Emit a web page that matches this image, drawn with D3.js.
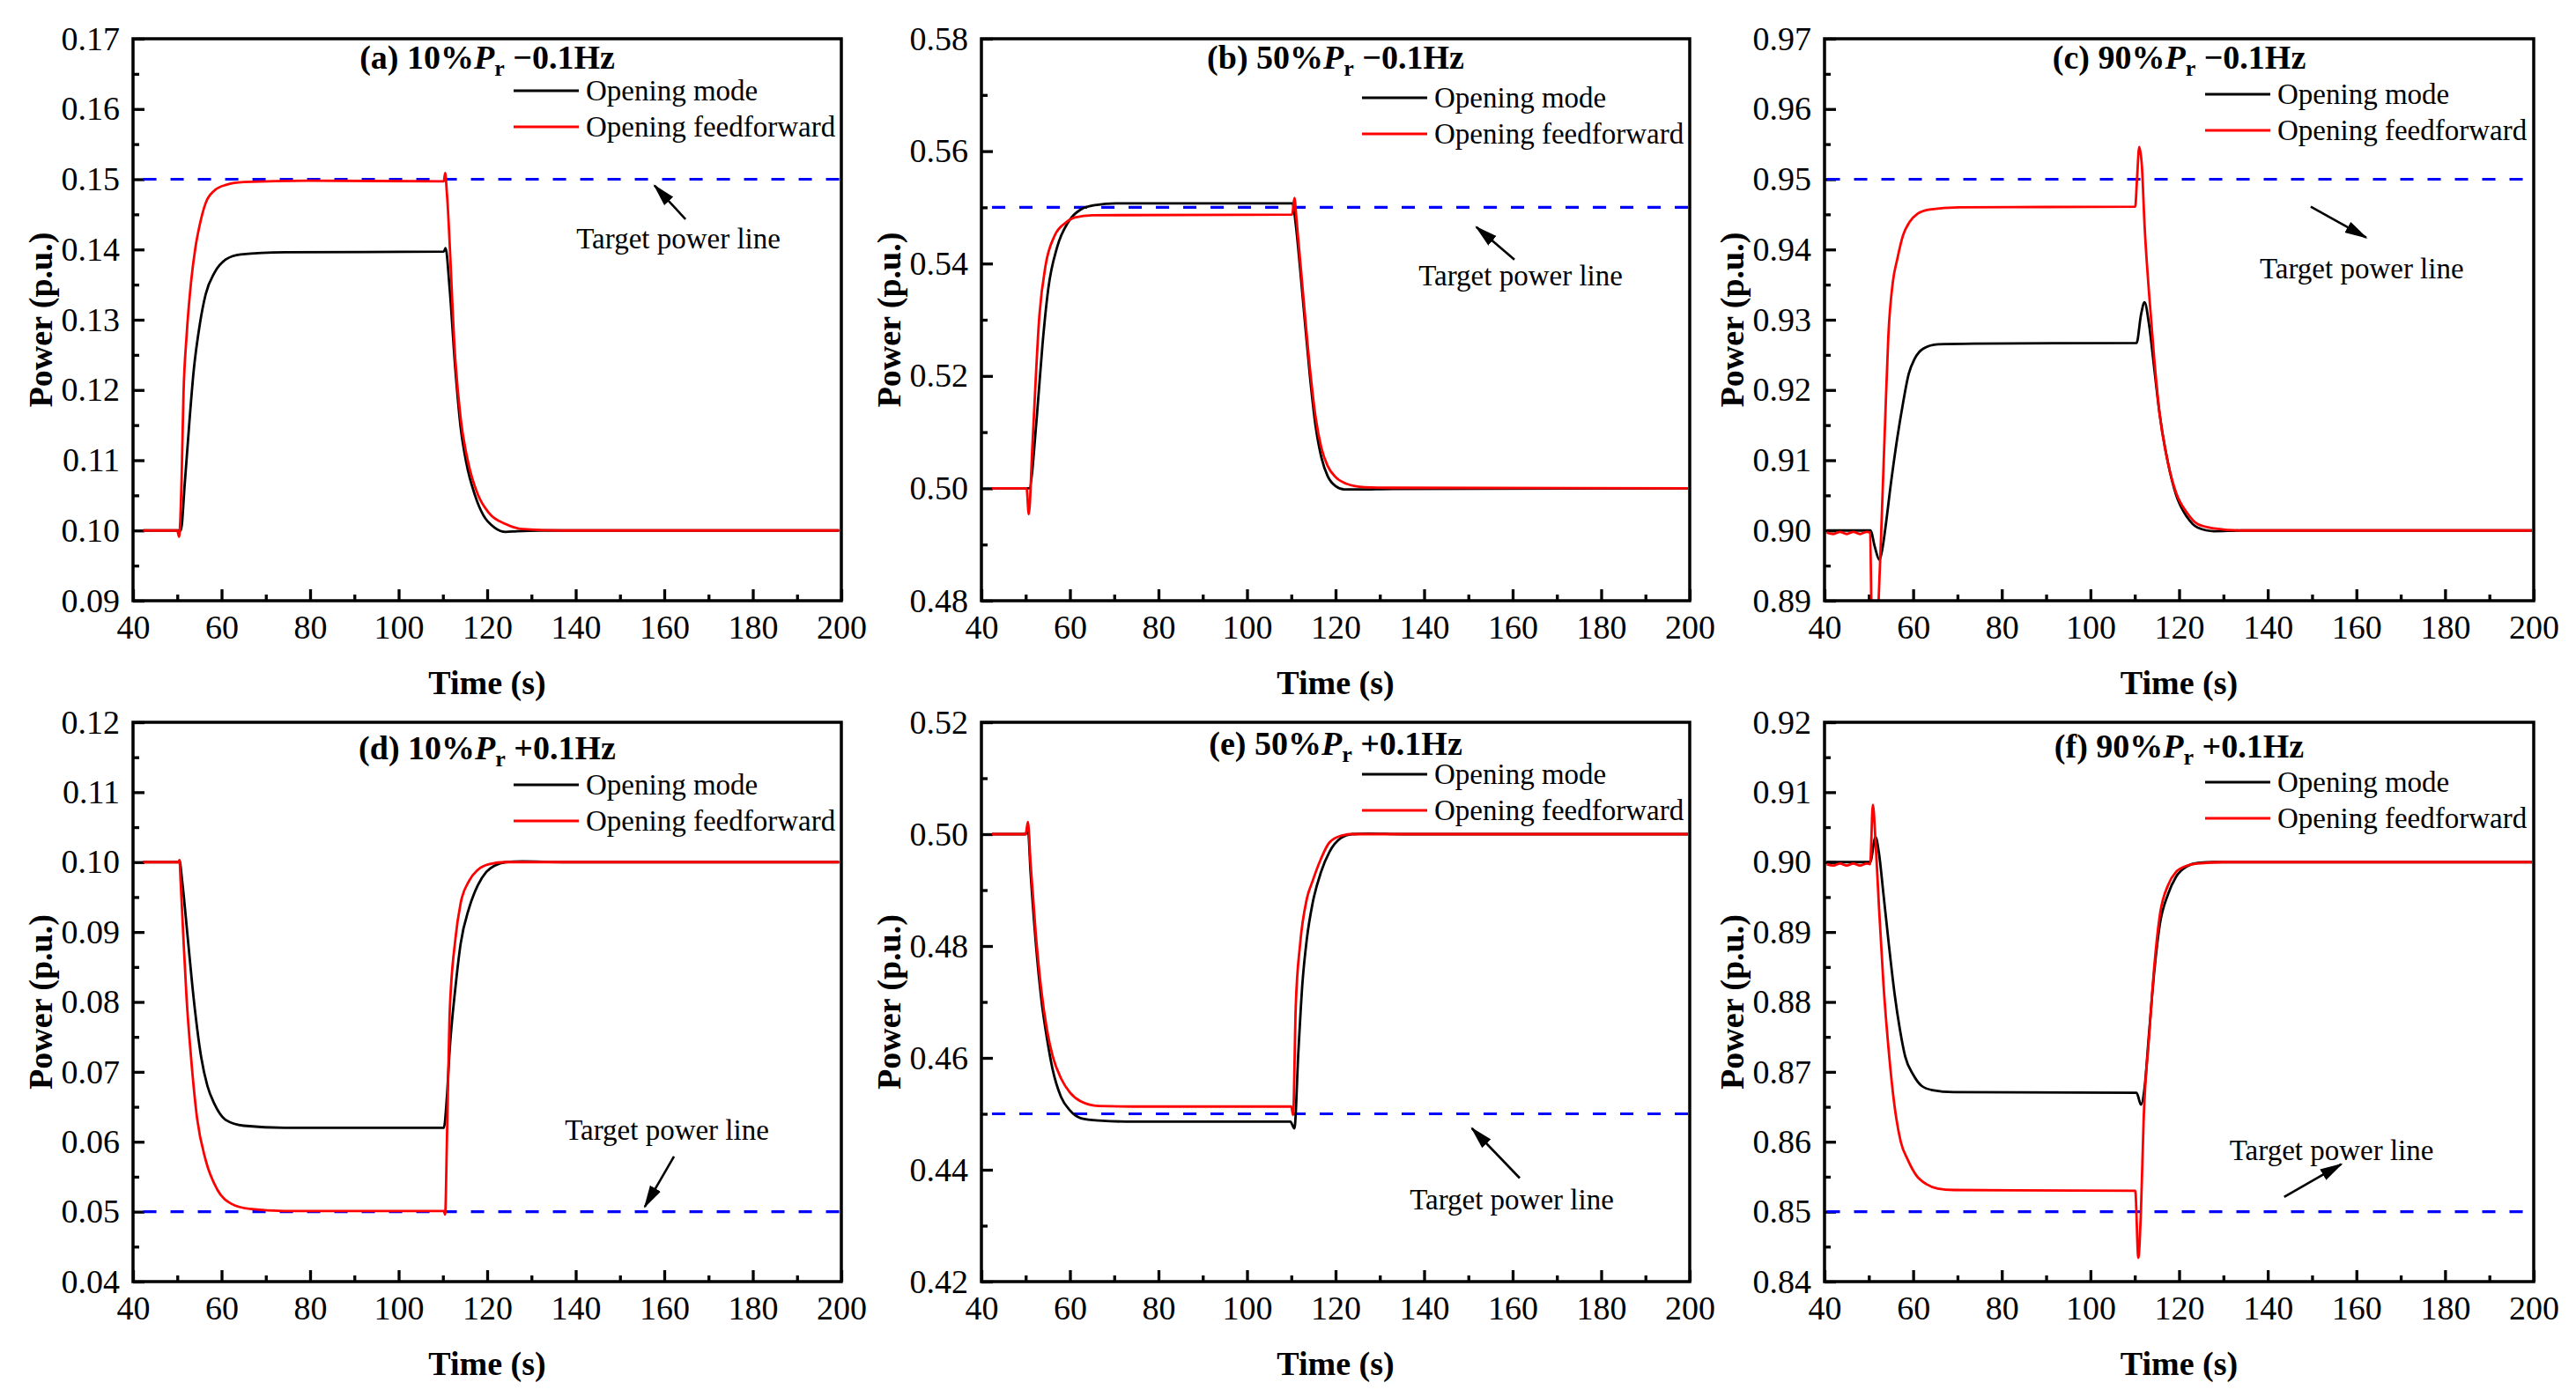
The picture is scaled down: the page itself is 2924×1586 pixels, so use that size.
<!DOCTYPE html>
<html>
<head>
<meta charset="utf-8">
<script src="https://cdn.jsdelivr.net/npm/d3@7"></script>
<style>
  body { margin: 0; background: #fff; }
  svg text { font-family: "Liberation Serif", "Times New Roman", serif; fill: #000; }
</style>
</head>
<body>
<svg id="chart" width="2924" height="1586"></svg>
<script>
// ---- data: [time (s), power (p.u.)] ----
const xTicks = [40, 60, 80, 100, 120, 140, 160, 180, 200];
const yTicksA = [0.09, 0.10, 0.11, 0.12, 0.13, 0.14, 0.15, 0.16, 0.17];
const yTicksB = [0.48, 0.50, 0.52, 0.54, 0.56, 0.58];
const yTicksC = [0.89, 0.90, 0.91, 0.92, 0.93, 0.94, 0.95, 0.96, 0.97];
const yTicksD = [0.04, 0.05, 0.06, 0.07, 0.08, 0.09, 0.10, 0.11, 0.12];
const yTicksE = [0.42, 0.44, 0.46, 0.48, 0.50, 0.52];
const yTicksF = [0.84, 0.85, 0.86, 0.87, 0.88, 0.89, 0.90, 0.91, 0.92];

const modeA = [[42.3,0.1000],[50.8,0.1000],[51.7,0.1068],[52.7,0.1152],[53.7,0.1227],[55.1,0.1294],[56.4,0.1336],[58.4,0.1367],[61.0,0.1386],[64.3,0.1393],[74.3,0.1396],[110.2,0.1397],[110.6,0.1402],[111.5,0.1346],[112.8,0.1230],[114.0,0.1147],[115.3,0.1096],[117.2,0.1051],[119.1,0.1022],[121.7,0.1004],[124.2,0.0998],[126.7,0.0999],[131.8,0.1000],[199.5,0.1000]];
const feedA = [[42.3,0.1000],[50.0,0.1000],[50.4,0.0991],[50.95,0.1068],[51.4,0.1194],[52.1,0.1277],[53.1,0.1353],[54.1,0.1403],[55.1,0.1436],[56.4,0.1466],[58.4,0.1484],[61.0,0.1492],[65.0,0.1496],[79.6,0.1498],[110.2,0.1497],[110.5,0.1509],[110.9,0.1480],[112.8,0.1243],[114.0,0.1160],[115.6,0.1100],[117.9,0.1051],[120.4,0.1025],[124.2,0.1009],[128.0,0.1002],[137.0,0.1000],[199.5,0.1000]];

const modeB = [[42.4,0.5000],[50.8,0.5000],[52.5,0.5126],[53.8,0.5256],[55.1,0.5355],[57.1,0.5429],[59.8,0.5476],[62.4,0.5496],[65.7,0.5504],[70.4,0.5507],[110.3,0.5507],[111.0,0.5470],[112.0,0.5390],[112.8,0.5320],[114.2,0.5200],[115.5,0.5110],[116.8,0.5055],[118.2,0.5022],[120.0,0.5004],[122.0,0.4998],[125.0,0.4998],[133.0,0.4999],[199.6,0.5000]];
const feedB = [[42.4,0.5000],[50.2,0.5000],[50.7,0.4954],[51.5,0.5073],[53.1,0.5308],[54.5,0.5397],[56.5,0.5449],[59.1,0.5473],[61.1,0.5482],[65.1,0.5486],[110.2,0.5487],[110.7,0.5517],[111.2,0.5476],[112.8,0.5334],[114.2,0.5214],[115.5,0.5126],[116.8,0.5072],[118.2,0.5040],[120.0,0.5020],[122.5,0.5008],[126.5,0.5002],[133.0,0.5001],[199.6,0.5000]];

const modeC = [[40.5,0.9000],[50.4,0.9000],[51.3,0.8978],[52.4,0.8958],[53.0,0.8972],[53.7,0.9002],[55.0,0.9068],[56.4,0.9131],[57.7,0.9181],[59.0,0.9223],[60.3,0.9244],[62.3,0.9259],[65.6,0.9265],[73.6,0.9266],[110.4,0.9267],[111.4,0.9307],[112.2,0.9325],[113.2,0.9294],[114.4,0.9230],[115.6,0.9166],[117.5,0.9096],[119.3,0.9051],[121.8,0.9019],[124.2,0.9004],[127.9,0.8999],[134.0,0.9000],[199.6,0.9000]];
const feedC = [[40.5,0.8997],[42.0,0.8995],[43.5,0.8998],[45.0,0.8995],[46.5,0.8998],[48.0,0.8995],[49.5,0.8998],[50.3,0.8997],[50.7,0.8850],[51.7,0.8850],[52.2,0.8900],[53.0,0.9035],[53.7,0.9160],[54.4,0.9277],[55.4,0.9353],[56.4,0.9386],[57.7,0.9420],[59.3,0.9440],[61.0,0.9451],[63.7,0.9457],[70.3,0.9460],[110.1,0.9461],[110.5,0.9500],[111.0,0.9546],[111.6,0.9519],[112.2,0.9435],[113.2,0.9339],[114.4,0.9243],[115.6,0.9166],[117.5,0.9096],[119.3,0.9054],[121.8,0.9025],[124.2,0.9009],[127.9,0.9003],[134.0,0.9000],[199.6,0.9000]];

const modeD = [[42.3,0.1000],[50.3,0.1000],[50.5,0.1002],[51.1,0.0973],[52.4,0.0889],[53.7,0.0805],[55.4,0.0721],[56.8,0.0680],[58.4,0.0654],[61.0,0.0631],[65.0,0.0623],[74.3,0.0620],[110.2,0.0620],[110.9,0.0664],[111.5,0.0729],[112.8,0.0819],[114.0,0.0883],[115.9,0.0934],[117.9,0.0967],[119.8,0.0986],[121.7,0.0995],[124.2,0.1000],[128.0,0.1001],[137.0,0.1000],[199.5,0.1000]];
const feedD = [[42.3,0.1000],[50.3,0.1000],[50.5,0.1003],[50.75,0.0973],[51.4,0.0889],[52.1,0.0805],[53.1,0.0721],[54.4,0.0637],[56.4,0.0574],[59.0,0.0532],[62.3,0.0511],[66.3,0.0504],[74.3,0.0501],[110.2,0.0501],[110.5,0.0496],[110.9,0.0600],[111.5,0.0780],[112.8,0.0889],[114.0,0.0941],[115.9,0.0973],[117.9,0.0989],[120.4,0.0997],[124.2,0.1000],[199.5,0.1000]];

const modeE = [[42.4,0.5000],[50.0,0.5000],[50.5,0.5010],[51.1,0.4932],[52.3,0.4804],[53.5,0.4707],[54.8,0.4635],[56.1,0.4579],[58.0,0.4530],[60.0,0.4506],[62.5,0.4492],[66.5,0.4488],[74.2,0.4486],[109.8,0.4486],[110.7,0.4474],[111.6,0.4611],[112.5,0.4732],[113.5,0.4812],[114.8,0.4876],[116.7,0.4932],[118.6,0.4968],[121.2,0.4993],[123.7,0.5000],[127.5,0.5001],[135.0,0.5000],[199.6,0.5000]];
const feedE = [[42.4,0.5000],[50.0,0.5000],[50.5,0.5022],[51.1,0.4948],[52.3,0.4820],[53.5,0.4723],[54.8,0.4651],[56.1,0.4603],[58.0,0.4563],[60.0,0.4538],[62.5,0.4522],[66.5,0.4514],[74.2,0.4513],[110.0,0.4513],[110.4,0.4498],[111.0,0.4691],[112.0,0.4804],[113.5,0.4884],[114.8,0.4916],[116.7,0.4956],[118.6,0.4985],[121.2,0.4997],[123.7,0.5000],[199.6,0.5000]];

const modeF = [[40.5,0.9000],[50.3,0.9000],[51.5,0.9036],[52.3,0.9012],[53.3,0.8954],[54.5,0.8883],[55.8,0.8812],[57.0,0.8761],[58.2,0.8722],[60.0,0.8696],[61.9,0.8680],[64.3,0.8674],[69.2,0.8671],[110.4,0.8670],[111.4,0.8653],[112.2,0.8677],[113.2,0.8754],[114.4,0.8844],[115.6,0.8909],[117.5,0.8954],[119.3,0.8979],[121.8,0.8994],[124.2,0.8999],[127.9,0.9000],[199.6,0.9000]];
const feedF = [[40.5,0.8997],[42.0,0.8995],[43.5,0.8998],[45.0,0.8995],[46.5,0.8998],[48.0,0.8995],[49.5,0.8998],[50.3,0.8997],[50.9,0.9082],[51.5,0.9031],[52.3,0.8934],[53.3,0.8825],[54.5,0.8729],[55.8,0.8651],[57.2,0.8600],[58.8,0.8574],[60.7,0.8552],[63.1,0.8539],[65.5,0.8533],[69.2,0.8531],[110.1,0.8530],[110.8,0.8434],[111.4,0.8503],[112.0,0.8632],[113.2,0.8748],[114.4,0.8851],[115.6,0.8922],[117.5,0.8967],[119.3,0.8986],[121.8,0.8995],[124.2,0.8998],[130.0,0.9000],[199.6,0.9000]];

const titles = [["(a) 10%", "−0.1Hz"], ["(b) 50%", "−0.1Hz"], ["(c) 90%", "−0.1Hz"],
                ["(d) 10%", "+0.1Hz"], ["(e) 50%", "+0.1Hz"], ["(f) 90%", "+0.1Hz"]];
const targets = [0.15, 0.55, 0.95, 0.05, 0.45, 0.85];
const seriesNames = ["Opening mode", "Opening feedforward"];
const seriesColors = ["#000000", "#ff0000"];

// annotation "Target power line": text centre, arrow tail, arrow head (data coords)
const notes = [
  {text: [163.2, 0.1415], tail: [164.8, 0.1443], head: [157.8, 0.1491]},
  {text: [161.8, 0.5378], tail: [160.4, 0.5407], head: [151.8, 0.5465]},
  {text: [161.2, 0.9373], tail: [149.7, 0.9461], head: [162.2, 0.9417]},
  {text: [160.6, 0.0616], tail: [162.2, 0.0579], head: [155.6, 0.0507]},
  {text: [159.8, 0.4347], tail: [161.6, 0.4385], head: [150.8, 0.4474]},
  {text: [154.4, 0.8587], tail: [143.7, 0.8521], head: [156.6, 0.8568]}
];

const panels = [
  {yTicks: yTicksA, mode: modeA, feed: feedA},
  {yTicks: yTicksB, mode: modeB, feed: feedB},
  {yTicks: yTicksC, mode: modeC, feed: feedC},
  {yTicks: yTicksD, mode: modeD, feed: feedD},
  {yTicks: yTicksE, mode: modeE, feed: feedE},
  {yTicks: yTicksF, mode: modeF, feed: feedF}
];

// ---- layout (pixels) ----
const colLeft = [151, 1114, 2071], colWidth = [804, 804, 805];
const rowTop = [44, 820], rowHeight = [638, 635];
const titleBase = [34, 34, 34, 42, 37, 40];
const legendTop = [59, 67, 63, 71, 59, 68];
const serif = "Liberation Serif, Times New Roman, serif";

const svg = d3.select("#chart");

svg.append("defs").append("marker")
    .attr("id", "arrow")
    .attr("markerUnits", "userSpaceOnUse")
    .attr("markerWidth", 26).attr("markerHeight", 16)
    .attr("refX", 24).attr("refY", 8)
    .attr("orient", "auto")
  .append("path")
    .attr("d", "M0,1 L26,8 L0,15 Z")
    .attr("fill", "#000");

panels.forEach((p, i) => {
    const col = i % 3, row = Math.floor(i / 3);
    const w = colWidth[col], h = rowHeight[row];
    const g = svg.append("g")
        .attr("transform", `translate(${colLeft[col]},${rowTop[row]})`);

    const x = d3.scaleLinear().domain([40, 200]).range([0, w]);
    const y = d3.scaleLinear().domain(d3.extent(p.yTicks)).range([h, 0]);
    const step = p.yTicks[1] - p.yTicks[0];

    g.append("clipPath").attr("id", "clip" + i)
      .append("rect").attr("width", w).attr("height", h);

    // minor ticks sit halfway between the major ones
    const xMinor = xTicks.slice(0, -1).map(v => v + 10);
    const yMinor = p.yTicks.slice(0, -1).map(v => v + step / 2);

    const styleAxis = sel => {
        sel.attr("font-family", serif).attr("font-size", 38);
        sel.select(".domain").remove();
        sel.selectAll("line").attr("stroke", "#000").attr("stroke-width", 3.3);
        sel.selectAll("text").attr("font-family", serif).attr("font-size", 38);
    };

    g.append("g").attr("transform", `translate(0,${h})`)
        .call(d3.axisBottom(x).tickValues(xMinor).tickSize(-7).tickFormat(""))
        .call(styleAxis);
    g.append("g")
        .call(d3.axisLeft(y).tickValues(yMinor).tickSize(-7).tickFormat(""))
        .call(styleAxis);

    g.append("g").attr("transform", `translate(0,${h})`)
        .call(d3.axisBottom(x).tickValues(xTicks).tickSize(-13).tickPadding(16).tickFormat(d3.format("d")))
        .call(styleAxis);
    g.append("g")
        .call(d3.axisLeft(y).tickValues(p.yTicks).tickSize(-13).tickPadding(15).tickFormat(d3.format(".2f")))
        .call(styleAxis);

    // target dashed line
    g.append("line")
        .attr("x1", x(p.mode[0][0])).attr("x2", x(200))
        .attr("y1", y(targets[i])).attr("y2", y(targets[i]))
        .attr("stroke", "#0000ff").attr("stroke-width", 3.2)
        .attr("stroke-dasharray", "15,16");

    // curves
    const line = d3.line()
        .x(d => x(d[0])).y(d => y(d[1]))
        .curve(d3.curveMonotoneX);
    [p.mode, p.feed].forEach((s, k) => {
        g.append("path")
            .datum(s)
            .attr("clip-path", `url(#clip${i})`)
            .attr("fill", "none")
            .attr("stroke", seriesColors[k])
            .attr("stroke-width", 2.8)
            .attr("stroke-linejoin", "round")
            .attr("d", line);
    });

    // frame
    g.append("rect")
        .attr("width", w).attr("height", h)
        .attr("fill", "none").attr("stroke", "#000").attr("stroke-width", 3.5);

    // title
    const t = g.append("text")
        .attr("x", w / 2).attr("y", titleBase[i])
        .attr("text-anchor", "middle")
        .attr("font-size", 38).attr("font-weight", "bold");
    t.append("tspan").text(titles[i][0]);
    t.append("tspan").attr("font-style", "italic").text("P");
    t.append("tspan").attr("font-size", 26).attr("dy", 8).text("r");
    t.append("tspan").attr("dy", -8).text(" " + titles[i][1]);

    // legend
    seriesNames.forEach((name, k) => {
        const ly = legendTop[i] + k * 41;
        g.append("line")
            .attr("x1", 432).attr("x2", 506).attr("y1", ly).attr("y2", ly)
            .attr("stroke", seriesColors[k]).attr("stroke-width", 3);
        g.append("text")
            .attr("x", 514).attr("y", ly).attr("dy", "0.33em")
            .attr("font-size", 33).text(name);
    });

    // annotation
    const n = notes[i];
    g.append("text")
        .attr("x", x(n.text[0])).attr("y", y(n.text[1])).attr("dy", "0.33em")
        .attr("text-anchor", "middle").attr("font-size", 33)
        .text("Target power line");
    g.append("line")
        .attr("x1", x(n.tail[0])).attr("y1", y(n.tail[1]))
        .attr("x2", x(n.head[0])).attr("y2", y(n.head[1]))
        .attr("stroke", "#000").attr("stroke-width", 2.6)
        .attr("marker-end", "url(#arrow)");

    // axis titles
    g.append("text")
        .attr("transform", `translate(-105,${h / 2}) rotate(-90)`)
        .attr("text-anchor", "middle").attr("dy", "0.35em")
        .attr("font-size", 38).attr("font-weight", "bold")
        .text("Power (p.u.)");
    g.append("text")
        .attr("x", w / 2).attr("y", h + 93).attr("dy", "0.35em")
        .attr("text-anchor", "middle")
        .attr("font-size", 38).attr("font-weight", "bold")
        .text("Time (s)");
});
</script>
</body>
</html>
